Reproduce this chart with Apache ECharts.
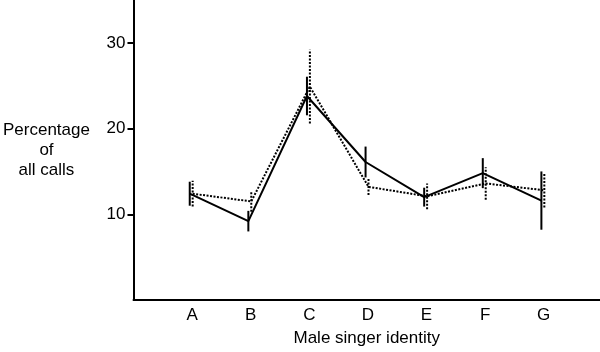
<!DOCTYPE html>
<html><head><meta charset="utf-8">
<script src="https://cdn.jsdelivr.net/npm/echarts@6/dist/echarts.min.js"></script>
<style>html,body{margin:0;padding:0;background:#fff}#c{width:600px;height:352px}</style>
</head><body><div id="c"></div>
<script>
var categories = ['A','B','C','D','E','F','G'];
var yTicks = [10,20,30];
var solidMean = [12.4, 9.2, 23.8, 16.1, 12.0, 14.8, 11.6];
var solidErr  = [1.4, 1.2, 2.25, 1.8, 1.1, 1.75, 3.4];
var dottedMean = [12.4, 11.5, 24.9, 13.2, 12.1, 13.6, 12.8];
var dottedErr  = [1.5, 1.2, 4.3, 0.95, 1.5, 1.9, 2.0];
var solidShift = -0.04, dottedShift = 0.01;

function pts(mean, shift){ return mean.map(function(v,i){ return [i+1+shift, v]; }); }
function bars(mean, err, shift){ return mean.map(function(v,i){ return [i+1+shift, v-err[i], v+err[i]]; }); }
function errRender(dash){
  return function(params, api){
    var p1 = api.coord([api.value(0), api.value(1)]);
    var p2 = api.coord([api.value(0), api.value(2)]);
    return {type:'line', shape:{x1:p1[0],y1:p1[1],x2:p2[0],y2:p2[1]},
      style:{stroke:'#000', lineWidth:2, lineDash: dash}};
  };
}
var font = 'Liberation Sans, Arial, sans-serif';
var fs = 17;
var chart = echarts.init(document.getElementById('c'));
chart.setOption({
  animation:false,
  grid:{left:132, right:0, top:0, bottom:48, containLabel:false},
  xAxis:{type:'value', min:0, max:7.96, interval:1,
    name:'Male singer identity', nameLocation:'middle', nameGap:30,
    nameTextStyle:{fontFamily:font, fontSize:fs, color:'#000'},
    axisLine:{lineStyle:{color:'#000', width:2}},
    axisTick:{show:false}, splitLine:{show:false},
    axisLabel:{customValues:[1,2,3,4,5,6,7], fontFamily:font, fontSize:fs, color:'#000', margin:7,
      formatter:function(v){ return categories[Math.round(v)-1] || ''; }}},
  yAxis:{type:'value', min:0, max:35,
    name:'Percentage\nof\nall calls', nameLocation:'middle', nameRotate:0, nameGap:87,
    nameTextStyle:{fontFamily:font, fontSize:fs, color:'#000', align:'center', lineHeight:20},
    axisLine:{show:true, lineStyle:{color:'#000', width:2}},
    axisTick:{show:true, customValues:yTicks, length:6, lineStyle:{color:'#000', width:2}},
    splitLine:{show:false},
    axisLabel:{customValues:yTicks, fontFamily:font, fontSize:fs, color:'#000', margin:8}},
  series:[
    {type:'line', data:pts(dottedMean, dottedShift), symbol:'none',
      lineStyle:{color:'#000', width:2, type:[2,1.5]}, z:2},
    {type:'custom', data:bars(dottedMean, dottedErr, dottedShift), renderItem:errRender([2,1.5]), z:2},
    {type:'line', data:pts(solidMean, solidShift), symbol:'none',
      lineStyle:{color:'#000', width:2}, z:3},
    {type:'custom', data:bars(solidMean, solidErr, solidShift), renderItem:errRender(null), z:3}
  ]
});
</script></body></html>
